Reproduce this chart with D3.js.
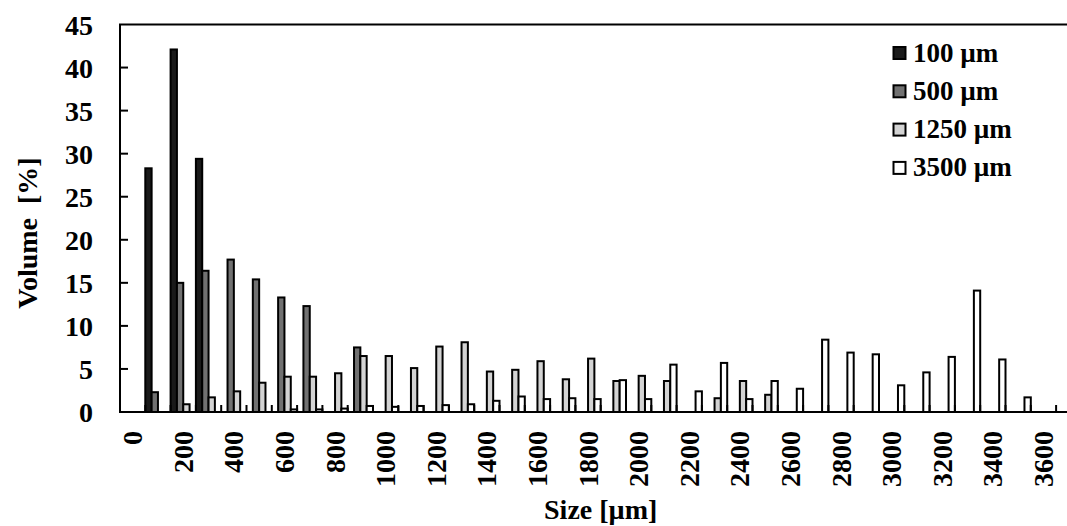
<!DOCTYPE html>
<html>
<head>
<meta charset="utf-8">
<script src="https://cdn.jsdelivr.net/npm/d3@7"></script>
<style>
  html, body { margin: 0; padding: 0; background: #fff; }
  svg { display: block; }
  text { font-family: "Liberation Serif", "Times New Roman", serif; font-weight: bold; fill: #000; }
</style>
</head>
<body>
<svg id="chart" width="1067" height="526"></svg>
<script>
// Size classes (µm), one category per 100 µm bin
const sizes = [0, 100, 200, 300, 400, 500, 600, 700, 800, 900,
  1000, 1100, 1200, 1300, 1400, 1500, 1600, 1700, 1800, 1900,
  2000, 2100, 2200, 2300, 2400, 2500, 2600, 2700, 2800, 2900,
  3000, 3100, 3200, 3300, 3400, 3500, 3600, 3700];

const seriesNames = ["100 µm", "500 µm", "1250 µm", "3500 µm"];

// Volume fraction [%] per size class
const vol100 = [0, 28.3, 42.1, 29.4, 0, 0, 0, 0, 0, 0,
  0, 0, 0, 0, 0, 0, 0, 0, 0, 0,
  0, 0, 0, 0, 0, 0, 0, 0, 0, 0,
  0, 0, 0, 0, 0, 0, 0, 0];
const vol500 = [0, 2.3, 15.0, 16.4, 17.7, 15.4, 13.3, 12.3, 0, 7.5,
  0, 0, 0, 0, 0, 0, 0, 0, 0, 0,
  0, 0, 0, 0, 0, 0, 0, 0, 0, 0,
  0, 0, 0, 0, 0, 0, 0, 0];
const vol1250 = [0, 0, 0.9, 1.7, 2.4, 3.4, 4.1, 4.1, 4.5, 6.5,
  6.5, 5.1, 7.6, 8.1, 4.7, 4.9, 5.9, 3.8, 6.2, 3.6,
  4.2, 3.6, 0, 1.6, 3.6, 2.0, 0, 0, 0, 0,
  0, 0, 0, 0, 0, 0, 0, 0];
const vol3500 = [0, 0, 0, 0, 0, 0, 0.3, 0.3, 0.4, 0.7,
  0.6, 0.7, 0.8, 0.9, 1.3, 1.8, 1.5, 1.6, 1.5, 3.7,
  1.5, 5.5, 2.4, 5.7, 1.5, 3.6, 2.7, 8.4, 6.9, 6.7,
  3.1, 4.6, 6.4, 14.1, 6.1, 1.7, 0, 0];

const yTicks = [0, 5, 10, 15, 20, 25, 30, 35, 40, 45];

const seriesValues = [vol100, vol500, vol1250, vol3500];
const fills = ["#1a1a1a", "#717171", "#d3d3d3", "#ffffff"];

const svg = d3.select("#chart");

const plot = { left: 120, top: 24.5, bottom: 412, step: 25.3 };
const plotRight = plot.left + plot.step * sizes.length;

const x = d3.scaleBand()
  .domain(sizes)
  .range([plot.left, plotRight])
  .padding(0);

const xs = d3.scaleBand()
  .domain(seriesNames)
  .range([0, x.bandwidth()])
  .padding(0);

const y = d3.scaleLinear()
  .domain([0, 45])
  .range([plot.bottom, plot.top]);

// Bars
const groups = svg.append("g").selectAll("g")
  .data(sizes)
  .join("g")
  .attr("transform", d => `translate(${x(d)},0)`);

groups.selectAll("rect")
  .data((d, i) => seriesNames.map((s, j) => ({ s, j, v: seriesValues[j][i] })))
  .join("rect")
  .filter(d => d.v > 0)
  .attr("x", d => xs(d.s))
  .attr("width", xs.bandwidth())
  .attr("y", d => y(d.v))
  .attr("height", d => y(0) - y(d.v))
  .attr("fill", d => fills[d.j])
  .attr("stroke", "#000")
  .attr("stroke-width", 2);

// Plot frame
svg.append("rect")
  .attr("x", plot.left)
  .attr("y", y(45))
  .attr("width", plotRight - plot.left)
  .attr("height", y(0) - y(45))
  .attr("fill", "none")
  .attr("stroke", "#000")
  .attr("stroke-width", 2);

// Y axis: inward ticks, labels on the left
const yAxis = svg.append("g")
  .attr("transform", `translate(${plot.left},0)`)
  .call(d3.axisLeft(y).tickValues(yTicks).tickSize(0).tickPadding(27));
yAxis.select(".domain").remove();
yAxis.selectAll("text")
  .style("font-size", "28px")
  .style("font-family", "'Liberation Serif', 'Times New Roman', serif")
  .style("font-weight", "bold")
  .attr("dy", "0.34em");
svg.append("g").selectAll("line")
  .data(yTicks.filter(t => t > 0 && t < 45))
  .join("line")
  .attr("x1", plot.left).attr("x2", plot.left + 8)
  .attr("y1", d => y(d)).attr("y2", d => y(d))
  .attr("stroke", "#000").attr("stroke-width", 2);

// X axis: labels every 200 µm, rotated
const labelled = sizes.filter((d, i) => i % 2 === 0 && d <= 3600);
const xAxis = svg.append("g")
  .attr("transform", `translate(0,${plot.bottom})`)
  .call(d3.axisBottom(x).tickValues(labelled).tickSize(0));
xAxis.select(".domain").remove();
xAxis.selectAll("text")
  .style("font-size", "28px")
  .style("font-family", "'Liberation Serif', 'Times New Roman', serif")
  .style("font-weight", "bold")
  .attr("text-anchor", "end")
  .attr("transform", "rotate(-90)")
  .attr("x", -19)
  .attr("y", 0)
  .attr("dy", "0.34em");

// Inward tick marks at the category boundaries
svg.append("g").selectAll("line")
  .data(sizes.slice(1))
  .join("line")
  .attr("x1", d => x(d)).attr("x2", d => x(d))
  .attr("y1", plot.bottom).attr("y2", plot.bottom - 7)
  .attr("stroke", "#000").attr("stroke-width", 2);

// Axis titles
svg.append("text")
  .attr("x", (plot.left + plotRight) / 2)
  .attr("y", 519)
  .attr("text-anchor", "middle")
  .style("font-size", "28px")
  .text("Size [µm]");

svg.append("text")
  .attr("transform", `translate(37,233) rotate(-90)`)
  .attr("text-anchor", "middle")
  .style("font-size", "28px")
  .style("white-space", "pre")
  .text("Volume  [%]");

// Legend
const legend = svg.append("g")
  .attr("transform", "translate(893.5,0)")
  .selectAll("g")
  .data(seriesNames)
  .join("g")
  .attr("transform", (d, i) => `translate(0,${61.5 + i * 38.3})`);
legend.append("rect")
  .attr("x", 0).attr("y", -14.5)
  .attr("width", 12).attr("height", 12)
  .attr("fill", (d, i) => fills[i])
  .attr("stroke", "#000")
  .attr("stroke-width", 2);
legend.append("text")
  .attr("x", 19.5)
  .attr("y", 0)
  .style("font-size", "27px")
  .text(d => d);
</script>
</body>
</html>
